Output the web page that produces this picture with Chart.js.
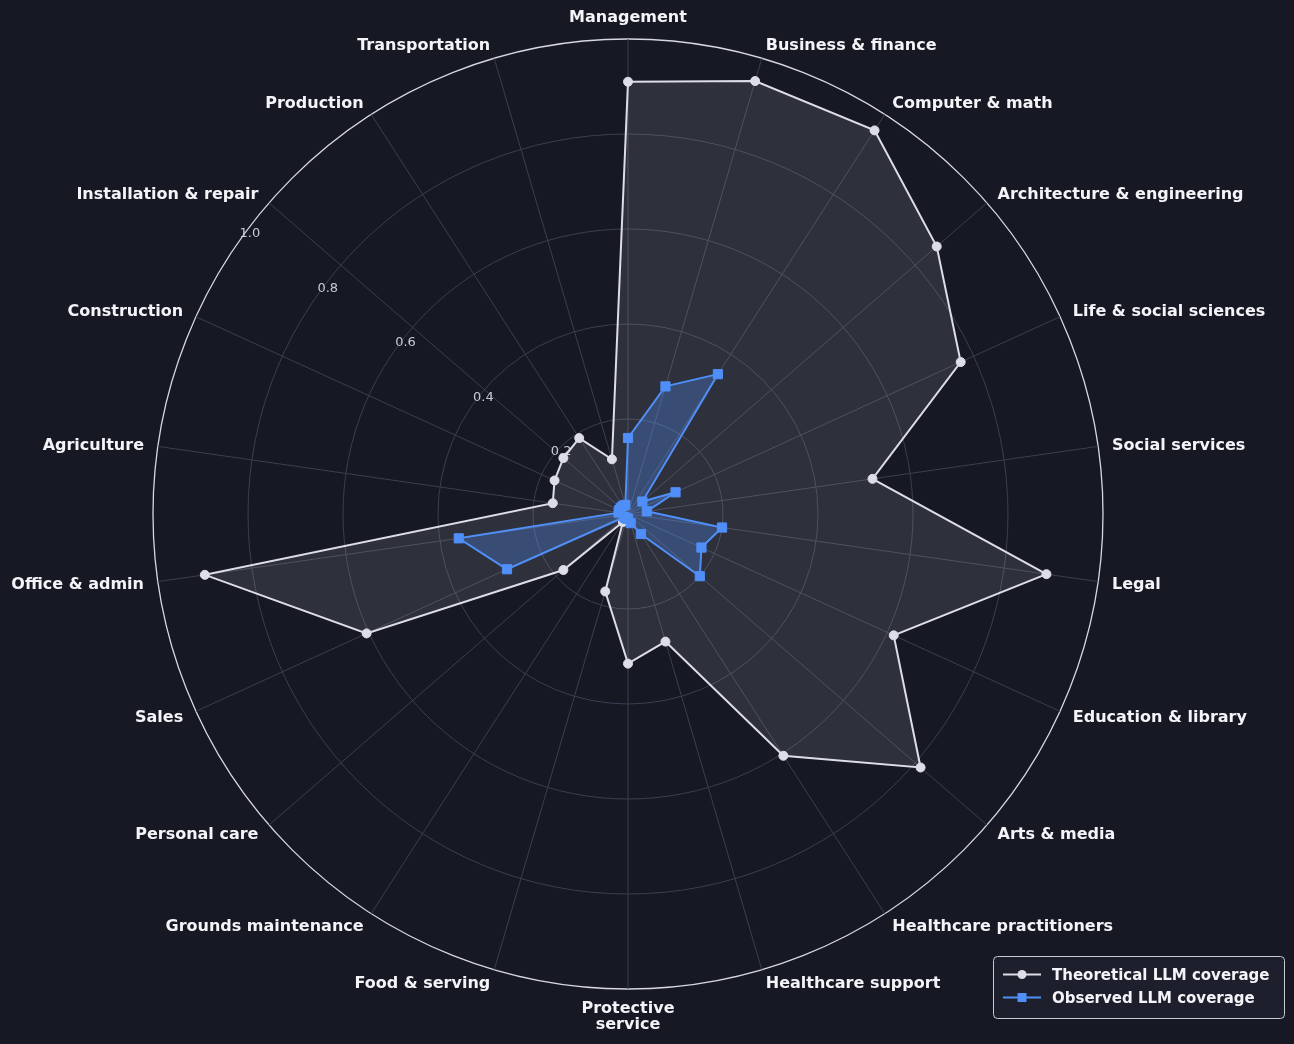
<!DOCTYPE html>
<html>
<head>
<meta charset="utf-8">
<title>LLM coverage by occupation</title>
<script src="https://cdn.jsdelivr.net/npm/chart.js@4/dist/chart.umd.min.js"></script>
<style>
    html, body { margin: 0; padding: 0; background: #161824; }
    #wrap { width: 1294px; height: 1044px; }
</style>
</head>
<body>
<div id="wrap"><canvas id="radar" width="1294" height="1044"></canvas></div>
<script>
const categories = [
    "Management", "Business & finance", "Computer & math", "Architecture & engineering",
    "Life & social sciences", "Social services", "Legal", "Education & library",
    "Arts & media", "Healthcare practitioners", "Healthcare support", ["Protective", "service"],
    "Food & serving", "Grounds maintenance", "Personal care", "Sales",
    "Office & admin", "Agriculture", "Construction", "Installation & repair",
    "Production", "Transportation"
];
const theoretical = [0.91, 0.95, 0.96, 0.86, 0.77, 0.52, 0.89, 0.615, 0.815, 0.605, 0.28,
    0.315, 0.17, 0.02, 0.18, 0.605, 0.90, 0.16, 0.17, 0.18, 0.19, 0.12];
const observed = [0.16, 0.28, 0.35, 0.04, 0.11, 0.04, 0.20, 0.17, 0.20, 0.05, 0.02,
    0.01, 0.01, 0.01, 0.01, 0.28, 0.36, 0.02, 0.02, 0.02, 0.02, 0.02];
const tickValues = [0.2, 0.4, 0.6, 0.8, 1.0];
const seriesNames = ["Theoretical LLM coverage", "Observed LLM coverage"];

const BG = "#161824";
const WHITE_LINE = "#dcdde8";
const BLUE = "#4f8ff7";
const GRID = "#3b3e50";

// background + tick labels (drawn under the data, like matplotlib)
const backdrop = {
    id: "backdrop",
    beforeDraw(chart) {
        const ctx = chart.ctx;
        ctx.save();
        ctx.fillStyle = BG;
        ctx.fillRect(0, 0, chart.width, chart.height);
        ctx.restore();
    },
    beforeDatasetsDraw(chart) {
        const s = chart.scales.r;
        const ctx = chart.ctx;
        const a = 55 * Math.PI / 180;
        ctx.save();
        ctx.font = "13px 'DejaVu Sans'";
        ctx.fillStyle = "#c8cad6";
        ctx.textAlign = "center";
        ctx.textBaseline = "middle";
        tickValues.forEach(v => {
            const d = s.getDistanceFromCenterForValue(v);
            const x = s.xCenter - d * Math.sin(a) + 11;
            const y = s.yCenter - d * Math.cos(a) - 7.5;
            ctx.fillText(v.toFixed(1), x, y);
        });
        ctx.restore();
    }
};

// category labels around the ring
const ringLabels = {
    id: "ringLabels",
    afterDatasetsDraw(chart) {
        const s = chart.scales.r;
        const ctx = chart.ctx;
        ctx.save();
        ctx.font = "bold 16px 'DejaVu Sans'";
        ctx.fillStyle = "#f4f4f8";
        categories.forEach((label, i) => {
            const p = s.getPointPosition(i, s.drawingArea + 14);
            const dx = p.x - s.xCenter;
            const dy = p.y - s.yCenter;
            const lines = Array.isArray(label) ? label : [label];
            ctx.textAlign = Math.abs(dx) < 2 ? "center" : (dx > 0 ? "left" : "right");
            if (Math.abs(dx) < 2 && dy < 0) {
                ctx.textBaseline = "alphabetic";
                ctx.fillText(lines[0], p.x, p.y - 3);
            } else if (Math.abs(dx) < 2 && dy > 0) {
                ctx.textBaseline = "middle";
                lines.forEach((t, k) => ctx.fillText(t, p.x, p.y + 6 + k * 16));
            } else {
                ctx.textBaseline = "middle";
                ctx.fillText(lines[0], p.x, p.y + 1);
            }
        });
        ctx.restore();
    }
};

// legend box at bottom right
const legendBox = {
    id: "legendBox",
    afterDraw(chart) {
        const ctx = chart.ctx;
        const x = 993, y = 956, w = 291, h = 62;
        ctx.save();
        ctx.beginPath();
        ctx.roundRect(x + 0.5, y + 0.5, w, h, 4);
        ctx.fillStyle = "#1d1f2c";
        ctx.fill();
        ctx.strokeStyle = "#c8c9d4";
        ctx.lineWidth = 1;
        ctx.stroke();
        const rows = [974.5, 997.5];
        const colors = [WHITE_LINE, BLUE];
        rows.forEach((ry, k) => {
            ctx.strokeStyle = colors[k];
            ctx.fillStyle = colors[k];
            ctx.lineWidth = 2;
            ctx.beginPath();
            ctx.moveTo(1003, ry);
            ctx.lineTo(1041, ry);
            ctx.stroke();
            ctx.beginPath();
            if (k === 0) {
                ctx.arc(1022, ry, 4.5, 0, Math.PI * 2);
            } else {
                ctx.rect(1017.5, ry - 4.5, 9, 9);
            }
            ctx.fill();
            ctx.font = "bold 15px 'DejaVu Sans'";
            ctx.fillStyle = "#f4f4f8";
            ctx.textAlign = "left";
            ctx.textBaseline = "middle";
            ctx.fillText(seriesNames[k], 1052, ry + 1.5);
        });
        ctx.restore();
    }
};

new Chart(document.getElementById("radar"), {
    type: "radar",
    data: {
        labels: categories,
        datasets: [
            {
                label: seriesNames[0],
                data: theoretical,
                order: 1,
                borderColor: WHITE_LINE,
                backgroundColor: "rgba(220, 221, 232, 0.12)",
                borderWidth: 2,
                fill: true,
                tension: 0,
                pointStyle: "circle",
                pointRadius: 4.5,
                pointBorderWidth: 1,
                pointBackgroundColor: WHITE_LINE,
                pointBorderColor: WHITE_LINE
            },
            {
                label: seriesNames[1],
                data: observed,
                order: 0,
                borderColor: BLUE,
                backgroundColor: "rgba(79, 143, 247, 0.30)",
                borderWidth: 2,
                fill: true,
                tension: 0,
                pointStyle: "rect",
                pointRadius: 6.5,
                pointBorderWidth: 1,
                pointBackgroundColor: BLUE,
                pointBorderColor: BLUE
            }
        ]
    },
    options: {
        responsive: false,
        animation: false,
        layout: { padding: { left: 153, right: 191, top: 39, bottom: 55 } },
        plugins: {
            legend: { display: false },
            tooltip: { enabled: false }
        },
        scales: {
            r: {
                min: 0,
                max: 1,
                ticks: { display: false, stepSize: 0.2 },
                pointLabels: { display: false },
                grid: {
                    circular: true,
                    color: ctx => ctx.tick && ctx.tick.value >= 0.999 ? "#d6d7e2" : GRID,
                    lineWidth: ctx => ctx.tick && ctx.tick.value >= 0.999 ? 1.3 : 1
                },
                angleLines: { color: GRID, lineWidth: 1 }
            }
        }
    },
    plugins: [backdrop, ringLabels, legendBox]
});
</script>
</body>
</html>
